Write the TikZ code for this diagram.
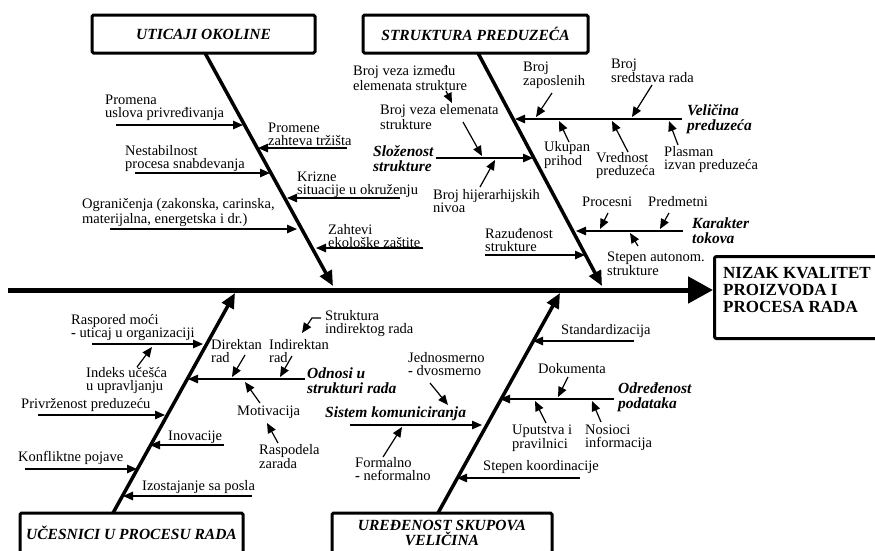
\documentclass[tikz,border=0pt]{standalone}
\usepackage{fontspec}
\setmainfont{Liberation Serif}
\usetikzlibrary{arrows.meta}

\tikzset{
  txt/.style={font=\fontsize{14.5}{13}\selectfont, inner sep=0pt, align=left, anchor=west},
  key/.style={font=\fontsize{15.5}{15}\selectfont\bfseries\itshape, inner sep=0pt, align=left, anchor=west},
  cat/.style={draw, line width=3pt, rounded corners=1.5pt, font=\fontsize{15.5}{15}\selectfont\bfseries\itshape,
    minimum width=223pt, minimum height=38pt, align=center, inner sep=0pt},
  bone/.style={line width=3.5pt, -{Triangle[length=15pt,width=13pt]}},
  sub/.style={line width=1.2pt, -{Triangle[length=10pt,width=8.5pt]}},
}

\begin{document}
\begin{tikzpicture}[x=1pt, y=-1pt]
    \useasboundingbox (0,0) rectangle (875,550);
    \clip (0,0) rectangle (875,550);

    % head and spine
    \node[draw, line width=3pt, rounded corners=2pt, anchor=north west, minimum width=180pt, minimum height=82pt] (effbox) at (713,255) {};
    \node[font=\fontsize{17}{17}\selectfont\bfseries, inner sep=0pt, align=left, anchor=west] (effect) at (723,290) {NIZAK KVALITET\\PROIZVODA I\\PROCESA RADA};
    \coordinate (tail) at (8,290);
    \draw[line width=5pt, -{Triangle[length=25pt,width=26pt]}] (tail) -- (tail -| effbox.west);

    % categories
    \node[cat] (okolina) at (203.5,34) {UTICAJI OKOLINE};
    \node[cat, minimum width=225pt] (struktura) at (475.5,34) {STRUKTURA PREDUZEĆA};
    \node[cat, minimum height=40pt] (ucesnici) at (131.5,533) {UČESNICI U PROCESU RADA};
    \node[cat, minimum width=220pt, minimum height=40pt] (uredjenost) at (442,533) {UREĐENOST SKUPOVA\\VELIČINA};

    \draw[bone] (205,53) -- (333,286);
    \draw[bone] (478,53) -- (602,286);
    \draw[bone] (113,513) -- (235,293);
    \draw[bone] (438,513) -- (560,293);

    % uticaji okoline
    \node[txt] (promena) at (105,107.5) {Promena\\uslova privređivanja};
    \draw[sub] (116,125) -- (243,125);
    \node[txt] (promene) at (268,134.5) {Promene\\zahteva tržišta};
    \draw[sub] (347,148) -- (258,148);
    \node[txt] (nestab) at (125,158.5) {Nestabilnost\\procesa snabdevanja};
    \draw[sub] (135,173) -- (270,173);
    \node[txt] (krizne) at (297,184.5) {Krizne\\situacije u okruženju};
    \draw[sub] (400,198) -- (287,198);
    \node[txt] (ogranic) at (82,212.5) {Ograničenja (zakonska, carinska,\\materijalna, energetska i dr.)};
    \draw[sub] (110,229) -- (297,229);
    \node[txt] (zahtevi) at (328,236.5) {Zahtevi\\ekološke zaštite};
    \draw[sub] (423,248) -- (316,248);

    % struktura preduzeca
    \node[key] (velicina) at (687,119.5) {Veličina\\preduzeća};
    \draw[sub] (682,119) -- (515,119);
    \node[txt] (zaposl) at (523,75.5) {Broj\\zaposlenih};
    \draw[sub] (552,93) -- (536,117);
    \node[txt] (sredstva) at (611,70.5) {Broj\\sredstava rada};
    \draw[sub] (652,85) -- (632,117);
    \node[txt] (prihod) at (544,155) {Ukupan\\prihod};
    \draw[sub] (569,142) -- (559,121);
    \node[txt] (vrednost) at (596,165.5) {Vrednost\\preduzeća};
    \draw[sub] (628,152) -- (612,121);
    \node[txt] (plasman) at (664,159.5) {Plasman\\izvan preduzeća};
    \draw[sub] (678,145) -- (669,121);

    \node[key] (slozenost) at (373,159) {Složenost\\strukture};
    \draw[sub] (436,158) -- (533,158);
    \node[txt] (vezaizm) at (353,78) {Broj veza između\\elemenata strukture};
    \draw[sub] (446,91) -- (452,103);
    \node[txt] (vezaelem) at (380,117) {Broj veza elemenata\\strukture};
    \draw[sub] (463,122) -- (482,156);
    \node[txt] (hijer) at (433,201.5) {Broj hijerarhijskih\\nivoa};
    \draw[sub] (480,187) -- (495,160);

    \node[key] (karakter) at (692,230.5) {Karakter\\tokova};
    \draw[sub] (683,231) -- (576,231);
    \node[txt] (procesni) at (582,202) {Procesni};
    \draw[sub] (608,213) -- (600,229);
    \node[txt] (predmetni) at (648,202) {Predmetni};
    \draw[sub] (669,213) -- (660,229);
    \node[txt] (autonom) at (607,263.5) {Stepen autonom.\\strukture};
    \draw[sub] (638,246) -- (630,233);
    \node[txt] (razudj) at (485,240.5) {Razuđenost\\strukture};
    \draw[sub] (485,255) -- (585,255);

    % ucesnici u procesu rada
    \node[txt] (raspored) at (71,327.5) {Raspored moći\\\textbf{-} uticaj u organizaciji};
    \draw[sub] (92,344) -- (203,344);
    \node[txt] (indeks) at (86,380) {Indeks učešća\\u upravljanju};
    \draw[sub] (137,367) -- (152,347);
    \node[key] (odnosi) at (307,380.5) {Odnosi u\\strukturi rada};
    \draw[sub] (305,379) -- (188,379);
    \node[txt] (direktan) at (211,351) {Direktan\\rad};
    \draw[sub] (245,355) -- (232,377);
    \node[txt] (indirektan) at (269,351) {Indirektan\\rad};
    \draw[sub] (292,356) -- (280,377);
    \node[txt] (indrad) at (325,323.5) {Struktura\\indirektog rada};
    \draw[sub] (321,318) -- (312,318) -- (302,333);
    \node[txt] (motiv) at (237,412) {Motivacija};
    \draw[sub] (260,403) -- (245,382);
    \node[txt] (raspodela) at (259,456.5) {Raspodela\\zarada};
    \draw[sub] (278,443) -- (267,423);
    \node[txt] (privrz) at (21,405) {Privrženost preduzeću};
    \draw[sub] (38,415) -- (165,415);
    \node[txt] (inovacije) at (168,437) {Inovacije};
    \draw[sub] (224,445) -- (150,445);
    \node[txt] (konflikt) at (18,458) {Konfliktne pojave};
    \draw[sub] (25,469) -- (137,469);
    \node[txt] (izostaj) at (142,487) {Izostajanje sa posla};
    \draw[sub] (252,496) -- (123,496);

    % uredjenost skupova velicina
    \node[txt] (standard) at (561,331) {Standardizacija};
    \draw[sub] (634,341) -- (533,341);
    \node[key] (odredjen) at (618,397.5) {Određenost\\podataka};
    \draw[sub] (614,399) -- (500,399);
    \node[txt] (dokumenta) at (538,369) {Dokumenta};
    \draw[sub] (568,377) -- (558,397);
    \node[txt] (uputstva) at (512,438) {Uputstva i\\pravilnici};
    \draw[sub] (546,423) -- (535,401);
    \node[txt] (nosioci) at (585,438) {Nosioci\\informacija};
    \draw[sub] (601,422) -- (592,401);
    \node[key] (sistem) at (325,414) {Sistem komuniciranja};
    \draw[sub] (350,425) -- (482,425);
    \node[txt] (smer) at (408,364.5) {Jednosmerno\\\textbf{-} dvosmerno};
    \draw[sub] (430,383) -- (448,405);
    \node[txt] (formalno) at (355,469.5) {Formalno\\\textbf{-} neformalno};
    \draw[sub] (383,457) -- (402,427);
    \node[txt] (koord) at (483,467) {Stepen koordinacije};
    \draw[sub] (580,478) -- (457,478);
\end{tikzpicture}
\end{document}
